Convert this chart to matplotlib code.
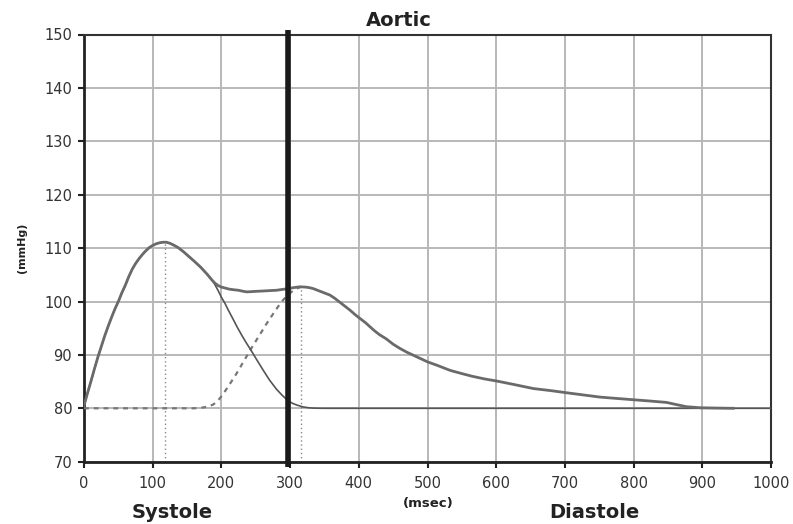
import matplotlib
matplotlib.use("Agg")
import matplotlib.pyplot as plt

plt.rcParams['font.family'] = ['DejaVu Sans']

# ---- data ----
total_t = [0, 5, 10, 15, 20, 25, 30, 35, 40, 45, 50, 55, 60, 65, 70, 75, 80, 85, 90, 95,
           100, 105, 110, 115, 120, 125, 130, 137, 145, 152, 160, 170, 175, 180, 185, 190,
           195, 200, 206, 212, 218, 225, 232, 237, 244, 250, 258, 265, 272, 280, 288, 297,
           305, 314, 322, 328, 334, 340, 346, 352, 358, 365, 372, 380, 387, 395, 403, 410,
           416, 423, 430, 440, 450, 460, 470, 480, 490, 500, 515, 533, 550, 565, 583, 601,
           628, 654, 680, 703, 727, 751, 775, 800, 825, 848, 862, 877, 897, 920, 945]
total_p = [80.5, 82.8, 85, 87.3, 89.5, 91.5, 93.5, 95.3, 97, 98.6, 100, 101.6, 103, 104.6,
           106, 107.1, 108, 108.8, 109.5, 110.1, 110.5, 110.8, 111, 111.1, 111.1, 110.9,
           110.6, 110.1, 109.3, 108.5, 107.6, 106.4, 105.7, 105, 104.2, 103.5, 103, 102.7,
           102.5, 102.3, 102.2, 102.1, 101.9, 101.8, 101.85, 101.9, 101.95, 102, 102.05,
           102.1, 102.25, 102.4, 102.6, 102.75, 102.7, 102.6, 102.4, 102.1, 101.8, 101.5,
           101.2, 100.6, 99.9, 99.1, 98.4, 97.5, 96.7, 96.0, 95.3, 94.5, 93.8, 93.0, 92.0,
           91.2, 90.5, 89.9, 89.3, 88.7, 88.0, 87.1, 86.5, 86.0, 85.5, 85.1, 84.4, 83.7,
           83.3, 82.9, 82.5, 82.1, 81.85, 81.6, 81.35, 81.1, 80.7, 80.3, 80.1, 80.05, 80.0]

forward_t = [0, 5, 10, 15, 20, 25, 30, 35, 40, 45, 50, 55, 60, 65, 70, 75, 80, 85, 90, 95,
             100, 105, 110, 115, 120, 125, 130, 137, 145, 152, 160, 170, 175, 180, 186, 190,
             195, 200, 205, 210, 217, 223, 230, 236, 242, 250, 261, 270, 280, 288, 297, 304,
             310, 319, 327, 335, 348, 1000]
forward_p = [80.5, 82.8, 85, 87.3, 89.5, 91.5, 93.5, 95.3, 97, 98.6, 100, 101.6, 103, 104.6,
             106, 107.1, 108, 108.8, 109.5, 110.1, 110.5, 110.8, 111, 111.1, 111.1, 110.9,
             110.6, 110.1, 109.3, 108.5, 107.6, 106.4, 105.7, 105, 104.1, 103.3, 102.1,
             100.8, 99.7, 98.4, 96.7, 95.2, 93.6, 92.3, 91.1, 89.4, 87.1, 85.3, 83.6, 82.5,
             81.4, 80.9, 80.6, 80.25, 80.1, 80.03, 80.0, 80.0]

reflected_t = [0, 100, 160, 170, 176, 182, 188, 193, 198, 203, 212, 222, 232, 242, 254, 266,
               278, 285, 290, 296, 302, 308, 312, 316]
reflected_p = [80, 80, 80, 80.1, 80.2, 80.4, 80.7, 81.2, 81.9, 82.75, 84.5, 86.5, 88.7, 90.9,
               93.4, 95.9, 98.2, 99.5, 100.3, 101.1, 101.8, 102.3, 102.55, 102.75]

peak_t = [118, 316]
peak_p = [111.1, 102.75]
end_systole_t = 297

x_ticks = [0, 100, 200, 300, 400, 500, 600, 700, 800, 900, 1000]
y_ticks = [70, 80, 90, 100, 110, 120, 130, 140, 150]

W, H = 793, 524
fig = plt.figure(figsize=(W / 100, H / 100), dpi=100)
ax = fig.add_axes([84 / W, 1 - 461.7 / H, 687 / W, 427.2 / H])

ax.set_xlim(0, 1000)
ax.set_ylim(70, 150)
ax.set_xticks(x_ticks)
ax.set_yticks(y_ticks)
ax.grid(True, color='#b8b8b8', linewidth=1.4, zorder=0)
ax.set_axisbelow(True)

ax.tick_params(axis='both', direction='out', length=4.5, width=1.5, colors='#222',
               labelsize=10.5, labelcolor='#333')
ax.tick_params(axis='x', pad=6)
ax.tick_params(axis='y', pad=4)

for s in ['left', 'bottom']:
    ax.spines[s].set_linewidth(2)
    ax.spines[s].set_color('#222')
for s in ['top', 'right']:
    ax.spines[s].set_linewidth(1.5)
    ax.spines[s].set_color('#333')

# dotted verticals at the peaks
for t, p in zip(peak_t, peak_p):
    ax.plot([t, t], [70, p], linestyle=(0, (1, 2)), color='#888', linewidth=1.0, zorder=2)

ax.plot(reflected_t, reflected_p, linestyle=(0, (2.2, 2.2)), color='#777', linewidth=1.6, zorder=3)
ax.plot(forward_t, forward_p, color='#555', linewidth=1.2, zorder=4)
ax.plot(total_t, total_p, color='#6a6a6a', linewidth=2.0, zorder=5)

# end-systole marker
ax.plot([end_systole_t, end_systole_t], [69.0, 150.8], color='#1a1a1a', linewidth=4,
        clip_on=False, zorder=6, solid_capstyle='butt')

def ftext(x, y, s, va='center', **kw):
    fig.text(x / W, 1 - y / H, s, ha='center', va=va, **kw)

ftext(399, 20, 'Aortic', fontsize=14, fontweight='bold', color='#222')
ftext(22, 248, '(mmHg)', fontsize=8, fontweight='bold', rotation=90, color='#222')
ftext(428, 504, '(msec)', fontsize=9.5, fontweight='bold', color='#222')
ftext(172, 518.5, 'Systole', va='baseline', fontsize=14, fontweight='bold', color='#222')
ftext(594, 518.5, 'Diastole', va='baseline', fontsize=14, fontweight='bold', color='#222')

fig.savefig('out.png', dpi=100)
